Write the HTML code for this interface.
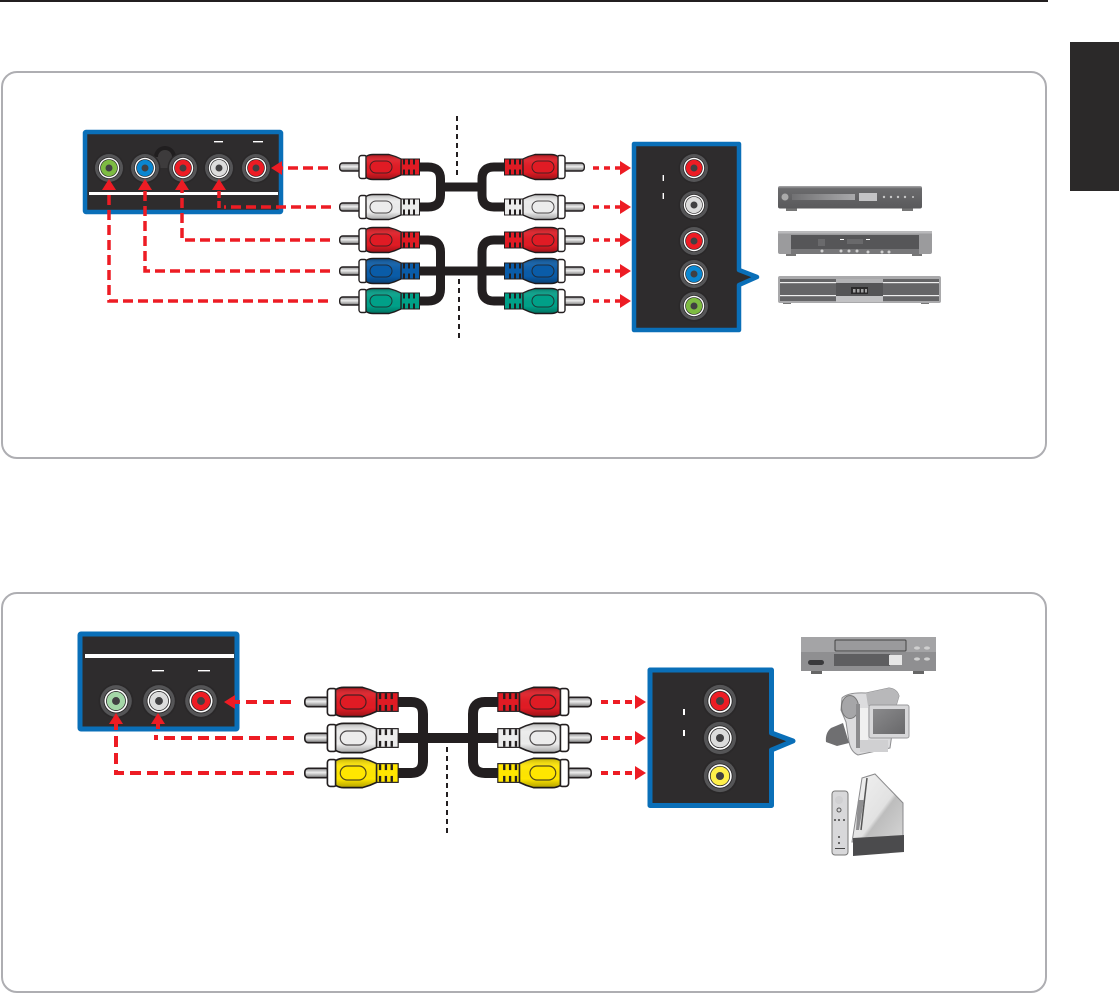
<!DOCTYPE html>
<html><head><meta charset="utf-8"><style>html,body{margin:0;padding:0;background:#fff;width:1119px;height:994px;overflow:hidden}svg{display:block}</style></head><body>
<svg xmlns="http://www.w3.org/2000/svg" width="1119" height="994" viewBox="0 0 1119 994">
<defs>
<linearGradient id="v" x1="0" y1="0" x2="0" y2="1"><stop offset="0" stop-color="#000" stop-opacity=".25"/><stop offset=".3" stop-color="#fff" stop-opacity=".05"/><stop offset=".7" stop-color="#000" stop-opacity="0"/><stop offset="1" stop-color="#000" stop-opacity=".3"/></linearGradient>
<linearGradient id="tip" x1="0" y1="0" x2="0" y2="1"><stop offset="0" stop-color="#8d8d8f"/><stop offset=".45" stop-color="#eee"/><stop offset="1" stop-color="#777"/></linearGradient>
<linearGradient id="dev" x1="0" y1="0" x2="0" y2="1"><stop offset="0" stop-color="#a8a8aa"/><stop offset=".12" stop-color="#6b6b6d"/><stop offset="1" stop-color="#59595b"/></linearGradient>
<linearGradient id="disp" x1="0" y1="0" x2="1" y2="0"><stop offset="0" stop-color="#717173"/><stop offset="1" stop-color="#a9a9ab"/></linearGradient>
<linearGradient id="wii" x1="0" y1="0" x2="1" y2="1"><stop offset="0" stop-color="#f2f2f2"/><stop offset=".55" stop-color="#e2e2e2"/><stop offset=".6" stop-color="#bdbdbd"/><stop offset="1" stop-color="#d5d5d5"/></linearGradient>
<linearGradient id="scr" x1="0" y1="0" x2="1" y2="1"><stop offset="0" stop-color="#8a8a8c"/><stop offset="1" stop-color="#68686a"/></linearGradient>
<g id="plug">
<rect x="0.7" y="-4" width="21" height="8" rx="3" fill="url(#tip)" stroke="#231f20" stroke-width="1.4"/>
<rect x="20" y="-11.5" width="8" height="23" rx="2.5" fill="#fff" stroke="#231f20" stroke-width="1.4"/>
<rect x="60" y="-8.5" width="21" height="17" fill="#231f20"/>
<rect x="60" y="-7.5" width="20" height="15" fill="currentColor"/>
<g fill="#231f20"><rect x="64" y="-7.5" width="2" height="5"/><rect x="69" y="-7.5" width="2" height="5"/><rect x="74" y="-7.5" width="2" height="5"/><rect x="64" y="2.5" width="2" height="5"/><rect x="69" y="2.5" width="2" height="5"/><rect x="74" y="2.5" width="2" height="5"/></g>
<path d="M27,-10.5 Q30,-12.5 34,-12.5 L50,-12.5 Q56,-11 62,-8 L62,8 Q56,11 50,12.5 L34,12.5 Q30,12.5 27,10.5 Z" fill="currentColor" stroke="#231f20" stroke-width="1.4"/>
<path d="M27,-10.5 Q30,-12.5 34,-12.5 L50,-12.5 Q56,-11 62,-8 L62,8 Q56,11 50,12.5 L34,12.5 Q30,12.5 27,10.5 Z" fill="url(#v)"/>
<rect x="31" y="-6" width="22" height="12" rx="6" fill="currentColor" stroke="#231f20" stroke-opacity=".8" stroke-width="1"/>
</g>
<g id="jack">
<circle r="15.5" fill="#2a2829"/><circle r="14" fill="#555557"/><circle r="11" fill="#2a2829"/><circle r="10.2" fill="#fff"/><circle r="8.8" fill="#2a2829"/><circle r="8.1" fill="currentColor"/><circle r="3.5" fill="#414042"/>
</g>
<path id="ah" d="M0,0 L-11,-7 L-11,7 Z" fill="#ed1c24"/>
</defs>

<rect x="0" y="0" width="1048" height="2" fill="#231f20"/>
<rect x="1070" y="42" width="49" height="149" fill="#2b2929"/>
<rect x="2" y="72" width="1044" height="386" rx="15" fill="#fff" stroke="#aeaeb2" stroke-width="2"/>
<rect x="2" y="593" width="1044" height="399" rx="15" fill="#fff" stroke="#aeaeb2" stroke-width="2"/>

<g stroke="#231f20" stroke-width="2" fill="none" stroke-dasharray="5 4">
<path d="M457,116V176"/><path d="M459,279V341"/><path d="M447,747V837"/>
</g>

<rect x="85" y="132" width="196" height="80" rx="1" fill="#2e2c2d" stroke="#0a6fb8" stroke-width="4.5" stroke-linejoin="round"/>
<rect x="89" y="192" width="189" height="3" fill="#fff"/>
<rect x="214" y="141" width="9" height="1.4" fill="#fff"/><rect x="253" y="141" width="10" height="1.4" fill="#fff"/>
<circle cx="165" cy="157" r="11" fill="#201e1f"/><circle cx="165" cy="157" r="7" fill="#3d3b3c"/><rect x="156" y="157" width="18" height="11" fill="#3d3b3c"/>
<use href="#jack" x="109" y="168" color="#7dbb42"/>
<use href="#jack" x="145" y="168" color="#0a86d0"/>
<use href="#jack" x="183" y="168" color="#ed1c24"/>
<use href="#jack" x="219" y="168" color="#dcdcdc"/>
<use href="#jack" x="256" y="168" color="#ed1c24"/>

<path d="M634,144 H739 V270 L757,277 L739,285 V330 H634 Z" fill="#2e2c2d" stroke="#0a6fb8" stroke-width="4.5" stroke-linejoin="round"/>
<rect x="662.6" y="175" width="1.4" height="6" fill="#fff"/><rect x="662.6" y="193" width="1.4" height="6" fill="#fff"/>
<use href="#jack" x="694" y="168" color="#ed1c24"/>
<use href="#jack" x="694" y="205" color="#dcdcdc"/>
<use href="#jack" x="694" y="241" color="#ed1c24"/>
<use href="#jack" x="694" y="274" color="#0a86d0"/>
<use href="#jack" x="694" y="306" color="#7dbb42"/>

<g fill="none" stroke="#231f20" stroke-width="9">
<path d="M418,167H428Q440.5,167 440.5,179V195Q440.5,207 428,207H418"/>
<path d="M440,187H482"/>
<path d="M505,167H494Q482,167 482,179V195Q482,207 494,207H505"/>
<path d="M418,240H428Q440.5,240 440.5,252V289Q440.5,301 428,301H418"/>
<path d="M418,271H505"/>
<path d="M505,240H494Q482,240 482,252V289Q482,301 494,301H505"/>
</g>

<use href="#plug" transform="translate(339,167)" color="#e01b24"/>
<use href="#plug" transform="translate(339,207)" color="#ececec"/>
<use href="#plug" transform="translate(339,240)" color="#e01b24"/>
<use href="#plug" transform="translate(339,271)" color="#0a5ca8"/>
<use href="#plug" transform="translate(339,301)" color="#00a088"/>
<use href="#plug" transform="translate(585,167) scale(-1,1)" color="#e01b24"/>
<use href="#plug" transform="translate(585,207) scale(-1,1)" color="#ececec"/>
<use href="#plug" transform="translate(585,240) scale(-1,1)" color="#e01b24"/>
<use href="#plug" transform="translate(585,271) scale(-1,1)" color="#0a5ca8"/>
<use href="#plug" transform="translate(585,301) scale(-1,1)" color="#00a088"/>

<g fill="none" stroke="#ed1c24" stroke-width="3.5" stroke-dasharray="10 5">
<path d="M328,168H282"/>
<path d="M331,207H224"/>
<path d="M219,208V189" stroke-dasharray="7 3"/>
<path d="M330,240H182V189"/>
<path d="M330,271H145V189"/>
<path d="M328,301H109V189"/>
</g>
<use href="#ah" transform="translate(271,168) rotate(180)"/>
<use href="#ah" transform="translate(219,179) rotate(-90)"/>
<use href="#ah" transform="translate(182,179) rotate(-90)"/>
<use href="#ah" transform="translate(145,179) rotate(-90)"/>
<use href="#ah" transform="translate(109,179) rotate(-90)"/>
<g fill="none" stroke="#ed1c24" stroke-width="3.5" stroke-dasharray="6 5">
<path d="M593,168H622"/><path d="M593,207H622"/><path d="M593,240H622"/><path d="M593,271H622"/><path d="M593,301H622"/>
</g>
<use href="#ah" transform="translate(631,168)"/><use href="#ah" transform="translate(631,207)"/><use href="#ah" transform="translate(631,240)"/><use href="#ah" transform="translate(631,271)"/><use href="#ah" transform="translate(631,301)"/>

<rect x="786" y="207" width="11" height="4" fill="#777"/><rect x="902" y="207" width="11" height="4" fill="#777"/>
<rect x="778" y="186" width="144" height="22.5" rx="2" fill="url(#dev)"/>
<circle cx="785" cy="197" r="3.5" fill="#aaa"/>
<rect x="792" y="194" width="63" height="6" fill="url(#disp)"/>
<rect x="859" y="193" width="18" height="8" fill="#c4c4c6"/>
<g fill="#c8c8c8"><circle cx="884" cy="197" r="1.2"/><circle cx="891" cy="197" r="1.2"/><circle cx="898" cy="197" r="1.2"/><circle cx="905" cy="197" r="1.2"/><circle cx="913" cy="197" r="1"/></g>

<rect x="786" y="252" width="10" height="4" fill="#777"/><rect x="912" y="252" width="10" height="4" fill="#777"/>
<rect x="778" y="231" width="154" height="23" rx="2" fill="#9b9b9d"/>
<rect x="778" y="231" width="154" height="2.5" fill="#b9b9bb"/>
<rect x="791" y="235" width="128" height="14" fill="#565658"/>
<rect x="791" y="249" width="128" height="5" fill="#777779"/>
<rect x="818" y="239" width="7" height="7" fill="#6a6a6c"/>
<rect x="840" y="239" width="4" height="1" fill="#fff"/><rect x="866" y="239" width="4" height="1" fill="#fff"/>
<rect x="847" y="239" width="16" height="5" fill="#69696b"/>
<g fill="#d0d0d0"><circle cx="822" cy="251" r="1.5"/><circle cx="841" cy="251" r="1.5"/><circle cx="849" cy="251" r="1.5"/><circle cx="857" cy="251" r="1.5"/><circle cx="868" cy="252" r="1.5"/><circle cx="882" cy="252" r="1.5"/><circle cx="889" cy="252" r="1.5"/></g>

<rect x="783" y="301" width="8" height="3" fill="#777"/><rect x="921" y="301" width="8" height="3" fill="#777"/>
<rect x="778" y="276" width="163" height="27" rx="2" fill="#a9a9ab"/>
<rect x="780" y="279" width="159" height="22" fill="#656567"/>
<rect x="780" y="282" width="56" height="1.2" fill="#eee"/><rect x="883" y="282" width="56" height="1.2" fill="#eee"/>
<rect x="780" y="295" width="56" height="1.2" fill="#eee"/><rect x="883" y="295" width="56" height="1.2" fill="#eee"/>
<rect x="836" y="279" width="47" height="4" fill="#b3b3b5"/>
<rect x="836" y="283" width="47" height="13" fill="#555557"/>
<rect x="836" y="296" width="47" height="6" fill="#c2c2c4"/>
<rect x="851" y="287" width="17" height="7" fill="#2b2a2b"/>
<g fill="#a0a0a0"><rect x="853" y="289" width="2.5" height="3.5"/><rect x="857" y="289" width="2.5" height="3.5"/><rect x="861" y="289" width="2.5" height="3.5"/><rect x="865" y="289" width="2" height="3.5"/></g>

<rect x="80" y="634" width="157" height="95" rx="1" fill="#2e2c2d" stroke="#0a6fb8" stroke-width="5" stroke-linejoin="round"/>
<rect x="85" y="654" width="149" height="4" fill="#fff"/>
<rect x="152" y="670" width="12" height="1.4" fill="#fff"/><rect x="198" y="670" width="12" height="1.4" fill="#fff"/>
<use href="#jack" transform="translate(116,701) scale(1.13)" color="#a4d7a7"/>
<use href="#jack" transform="translate(159,701) scale(1.13)" color="#dcdcdc"/>
<use href="#jack" transform="translate(201,701) scale(1.13)" color="#ed1c24"/>

<path d="M650,670 H771.5 V733 L793,741 L771.5,750 V805.5 H650 Z" fill="#2e2c2d" stroke="#0a6fb8" stroke-width="5" stroke-linejoin="round"/>
<rect x="683" y="709" width="2" height="6" fill="#fff"/><rect x="683" y="730" width="2" height="6" fill="#fff"/>
<use href="#jack" transform="translate(720,701) scale(1.15)" color="#ed1c24"/>
<use href="#jack" transform="translate(720,738) scale(1.15)" color="#dcdcdc"/>
<use href="#jack" transform="translate(720,776) scale(1.15)" color="#fff04a"/>

<g fill="none" stroke="#231f20" stroke-width="10">
<path d="M396,702H411Q423,702 423,714V761Q423,773 411,773H396"/>
<path d="M396,738H500"/>
<path d="M500,702H485Q473,702 473,714V761Q473,773 485,773H500"/>
</g>

<use href="#plug" transform="translate(304,702) scale(1.17)" color="#e01b24"/>
<use href="#plug" transform="translate(304,738) scale(1.17)" color="#ececec"/>
<use href="#plug" transform="translate(304,773) scale(1.17)" color="#ffe600"/>
<use href="#plug" transform="translate(592,702) scale(-1.17,1.17)" color="#e01b24"/>
<use href="#plug" transform="translate(592,738) scale(-1.17,1.17)" color="#ececec"/>
<use href="#plug" transform="translate(592,773) scale(-1.17,1.17)" color="#ffe600"/>

<g fill="none" stroke="#ed1c24" stroke-width="4" stroke-dasharray="11 6">
<path d="M291,702H234"/>
<path d="M294,738H156V735"/>
<path d="M158,729V723" stroke-dasharray="none"/>
<path d="M294,773H116V724"/>
</g>
<use href="#ah" transform="translate(224,702) rotate(180)"/>
<use href="#ah" transform="translate(158,713) rotate(-90)"/>
<use href="#ah" transform="translate(116,713) rotate(-90)"/>
<g fill="none" stroke="#ed1c24" stroke-width="4" stroke-dasharray="7 5">
<path d="M601,702H636"/><path d="M601,738H636"/><path d="M601,773H636"/>
</g>
<use href="#ah" transform="translate(646,702)"/><use href="#ah" transform="translate(646,738)"/><use href="#ah" transform="translate(646,773)"/>

<rect x="811" y="670" width="11" height="4" fill="#666"/><rect x="913" y="670" width="11" height="4" fill="#666"/>
<rect x="801" y="637" width="135" height="34" fill="#8f8f91"/>
<rect x="801" y="637" width="135" height="15" fill="#a4a4a6"/>
<rect x="835" y="640" width="71" height="11" rx="1" fill="#9a9a9c" stroke="#444" stroke-width="1"/>
<rect x="834" y="654" width="56" height="12" fill="#5e5e60"/>
<rect x="889" y="655" width="13" height="10" fill="#e6e6e6"/>
<rect x="808" y="660" width="16" height="5" rx="2.5" fill="#3a3a3c"/>
<g fill="#cfcfcf"><ellipse cx="917" cy="648" rx="3" ry="1.6"/><ellipse cx="927" cy="648" rx="3" ry="1.6"/><ellipse cx="917" cy="659" rx="3" ry="1.6"/><ellipse cx="927" cy="659" rx="3" ry="1.6"/></g>

<path d="M842,698 Q848,692 866,693 L889,688 Q897,689 899,696 L896,706 L890,748 L858,755 Q851,752 849,742 L846,722 L841,710 Z" fill="#dcdcde" stroke="#8e8e90" stroke-width="1"/>
<path d="M866,693 L889,688 Q897,689 899,696 L896,706 L868,706 Z" fill="#b8b8ba"/>
<ellipse cx="850" cy="707" rx="8.5" ry="11.5" fill="#a6a6a8" stroke="#777" stroke-width="1"/>
<path d="M826,742 Q825,733 831,728 L843,723 L849,743 L837,746 Z" fill="#6f6f71"/>
<rect x="856" y="704" width="4" height="44" fill="#8c8c8e"/>
<rect x="860" y="708" width="8" height="32" fill="#f0f0f0"/>
<rect x="860" y="740" width="28" height="12" fill="#d0d0d2"/>
<rect x="869" y="705" width="40" height="33" rx="2" fill="#d7d7d9" stroke="#9a9a9c"/>
<rect x="873" y="709" width="32" height="25" fill="url(#scr)"/>

<rect x="832" y="791" width="16" height="64" rx="3" fill="#d8d8da" stroke="#777" stroke-width="1"/>
<circle cx="839" cy="800" r="4" fill="#d0d0d2"/>
<circle cx="839" cy="810" r="2" fill="none" stroke="#555"/>
<g fill="#444"><circle cx="835" cy="820" r="1"/><circle cx="839" cy="820" r="1"/><circle cx="844" cy="820" r="1"/><circle cx="839" cy="837" r="1"/><circle cx="839" cy="843" r="1"/></g>
<rect x="835" y="848" width="10" height="1" fill="#444"/>
<path d="M862,778 L875,774 L903,803 L903,840 L852,842 Z" fill="url(#wii)" stroke="#8a8a8c" stroke-width="1"/>
<path d="M867,778 L861,830" stroke="#555" stroke-width="1.5"/>
<path d="M858,800 L864,800 L859,830 L856,830 Z" fill="#8f8f91"/>
<path d="M853,838 L904,835 L904,852 L853,856 Z" fill="#4b4b4d"/>
</svg>
</body></html>
